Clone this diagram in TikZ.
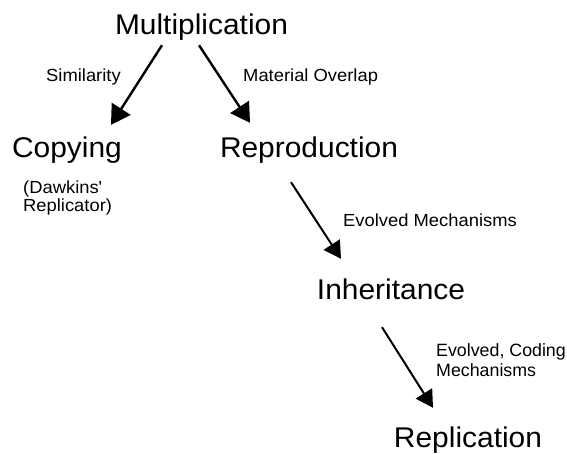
\documentclass[tikz,border=0pt]{standalone}
\usepackage{fontspec}
\setmainfont{Liberation Sans}
\newfontfamily\diagfont{Liberation Sans}[FakeStretch=1.05]
\newfontfamily\diagfontn{Liberation Sans}
\usetikzlibrary{arrows.meta,calc}
\tikzset{
  big/.style={font=\diagfont\fontsize{28.5}{30}\selectfont, inner sep=0pt, text height=21pt, text depth=6pt, anchor=base},
  small/.style={font=\diagfont\fontsize{17.5}{18}\selectfont, inner sep=0pt, anchor=base west},
  arrtop/.style={line width=2.4pt, -{Triangle[length=19pt,width=22pt]}},
  arrlow/.style={line width=2pt, -{Triangle[length=17pt,width=19pt]}}
}
\begin{document}
\begin{tikzpicture}[x=1pt,y=-1pt]
\useasboundingbox (0,0) rectangle (567,454);
\node[big] (mult) at (201.5,35) {Multiplication};
\node[big] (copy) at (67,158) {Copying};
\node[big] (rep) at (309,158) {Reproduction};
\node[big] (inh) at (391,299) {Inheritance};
\node[big] (repl) at (468,447) {Replication};

\node[small] (sim) at (46,82) {Similarity};
\node[small] (mat) at (243,82) {Material Overlap};
\node[small, anchor=north west, align=left, font=\diagfont\fontsize{17.5}{18}\selectfont] (daw) at (23,181) {(Dawkins'\\Replicator)};
\node[small] (evo) at (343,226) {Evolved Mechanisms};
\node[small, anchor=north west, align=left, font=\diagfontn\fontsize{17.8}{20}\selectfont] (evc) at (436,343) {Evolved, Coding\\Mechanisms};

\draw[arrtop] ($(mult.south)+(-39.5,4)$) -- ($(copy.north)+(44,-12)$);
\draw[arrtop] ($(mult.south)+(-2.5,4)$) -- ($(rep.north)+(-59,-14)$);
\draw[arrlow] ($(rep.south)+(-18,18)$) -- ($(inh.north)+(-50,-19)$);
\draw[arrlow] ($(inh.south)+(-9,22)$) -- ($(repl.north)+(-35,-18)$);
\end{tikzpicture}
\end{document}
